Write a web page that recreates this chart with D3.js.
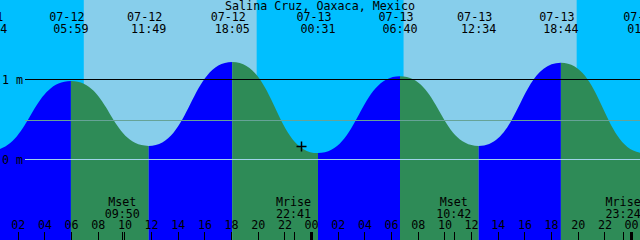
<!DOCTYPE html>
<html>
<head>
<meta charset="utf-8">
<script src="https://cdn.jsdelivr.net/npm/d3@7"></script>
<style>
body { margin: 0; background: #fff; }
svg { display: block; }
text { font-family: "DejaVu Sans Mono", monospace; font-size: 11.7px; fill: #000; }
</style>
</head>
<body>
<script>
var width = 640,
    height = 240;

// chart data
var title = "Salina Cruz, Oaxaca, Mexico";
var xStart = "07-12 00:40",
    xEnd = "07-14 00:40";
var tideTimes = ["07-11 23:54", "07-12 05:59", "07-12 11:49", "07-12 18:05", "07-13 00:31",
                 "07-13 06:40", "07-13 12:34", "07-13 18:44", "07-14 01:02"];
var tideHeights = [0.11, 0.98, 0.17, 1.22, 0.08, 1.04, 0.17, 1.21, 0.08];
var sunrise = ["07-12 06:57", "07-13 06:56"];
var sunset = ["07-12 19:55", "07-13 19:55"];
var moonLabels = ["Mset", "Mrise", "Mset", "Mrise"];
var moonTimes = ["07-12 09:50", "07-12 22:41", "07-13 10:42", "07-13 23:24"];
var levelValues = [0, 1];
var levelLabels = ["0 m", "1 m"];
var meanLevel = 0.49;
var markTime = "07-12 23:16",
    markHeight = 0.17;

var parse = d3.utcParse("%m-%d %H:%M");

var x = d3.scaleUtc()
    .domain([parse(xStart), parse(xEnd)])
    .range([0, width]);

var y = d3.scaleLinear()
    .domain([0, 1])
    .range([159.5, 79.5]);

var svg = d3.select("body").append("svg")
    .attr("width", width)
    .attr("height", height);

var tides = tideTimes.map(function(t, i) {
    return { t: parse(t), h: tideHeights[i], label: t };
});

// night / day background
svg.append("rect")
    .attr("width", width)
    .attr("height", height)
    .attr("fill", "#00bfff");

svg.selectAll("rect.day")
    .data(sunrise)
    .enter().append("rect")
    .attr("class", "day")
    .attr("x", function(d) { return x(parse(d)); })
    .attr("y", 0)
    .attr("width", function(d, i) { return x(parse(sunset[i])) - x(parse(d)); })
    .attr("height", height)
    .attr("fill", "#87ceeb");

// tide area, coloured by flood / ebb (bumpX keeps the extremes flat)
var area = d3.area()
    .x(function(d) { return x(d.t); })
    .y0(height)
    .y1(function(d) { return y(d.h); })
    .curve(d3.curveBumpX);

svg.append("clipPath")
    .attr("id", "tide")
    .append("path")
    .attr("d", area(tides));

svg.append("g")
    .attr("clip-path", "url(#tide)")
    .selectAll("rect")
    .data(tides.slice(0, -1))
    .enter().append("rect")
    .attr("x", function(d) { return x(d.t); })
    .attr("y", 0)
    .attr("width", function(d, i) { return x(tides[i + 1].t) - x(d.t); })
    .attr("height", height)
    .attr("fill", function(d, i) { return tides[i + 1].h > d.h ? "#0000ff" : "#2e8b57"; });

// level lines
var lines = [
    { v: 0, c: "#9fd3ea" },
    { v: meanLevel, c: "#66a397" },
    { v: 1, c: "#000" }
];
svg.selectAll("line.level")
    .data(lines)
    .enter().append("line")
    .attr("class", "level")
    .attr("x1", 25)
    .attr("x2", width)
    .attr("y1", function(d) { return Math.floor(y(d.v)) + 0.5; })
    .attr("y2", function(d) { return Math.floor(y(d.v)) + 0.5; })
    .attr("stroke", function(d) { return d.c; })
    .attr("shape-rendering", "crispEdges");

svg.selectAll("text.level")
    .data(levelValues)
    .enter().append("text")
    .attr("class", "level")
    .attr("x", 2)
    .attr("y", function(d) { return y(d) + 4; })
    .text(function(d, i) { return levelLabels[i]; });

// title and high / low labels
svg.append("text")
    .attr("x", width / 2)
    .attr("y", 10)
    .attr("text-anchor", "middle")
    .text(title);

var fmtDate = d3.utcFormat("%m-%d"),
    fmtTime = d3.utcFormat("%H:%M");

var tl = svg.selectAll("g.tl")
    .data(tides)
    .enter().append("g")
    .attr("class", "tl")
    .attr("transform", function(d) { return "translate(" + x(d.t) + ",0)"; });
tl.append("text")
    .attr("x", -4)
    .attr("y", 21)
    .attr("text-anchor", "middle")
    .text(function(d) { return fmtDate(d.t); });
tl.append("text")
    .attr("y", 33)
    .attr("text-anchor", "middle")
    .text(function(d) { return fmtTime(d.t); });

// moon events
var moon = svg.selectAll("g.moon")
    .data(moonTimes)
    .enter().append("g")
    .attr("class", "moon")
    .attr("transform", function(d) { return "translate(" + x(parse(d)) + ",0)"; });
moon.append("text")
    .attr("y", 206)
    .attr("text-anchor", "middle")
    .text(function(d, i) { return moonLabels[i]; });
moon.append("text")
    .attr("y", 218)
    .attr("text-anchor", "middle")
    .text(function(d) { return fmtTime(parse(d)); });
moon.append("line")
    .attr("x1", 0.5)
    .attr("x2", 0.5)
    .attr("y1", 232)
    .attr("y2", 240)
    .attr("stroke", "#000")
    .attr("shape-rendering", "crispEdges");

// hour axis
var hours = d3.utcHour.every(2).range(parse("07-12 01:00"), parse(xEnd));

var ax = svg.append("g")
    .attr("transform", "translate(0," + height + ")")
    .call(d3.axisTop(x).tickValues(hours).tickSize(8).tickPadding(3)
        .tickFormat(d3.utcFormat("%H")));
ax.select(".domain").remove();
ax.attr("font-family", null).attr("font-size", null);
ax.selectAll(".tick line")
    .attr("stroke", "#000")
    .attr("stroke-width", function(d) { return d.getUTCHours() === 0 ? 3 : 1; })
    .attr("shape-rendering", "crispEdges");

// mark
svg.append("path")
    .attr("transform", "translate(" + Math.round(x(parse(markTime))) + "," + Math.round(y(markHeight)) + ")")
    .attr("d", "M-4.5,0.5H5.5M0.5,-4.5V5.5")
    .attr("stroke", "#000")
    .attr("stroke-width", 1.5)
    .attr("fill", "none");
</script>
</body>
</html>
